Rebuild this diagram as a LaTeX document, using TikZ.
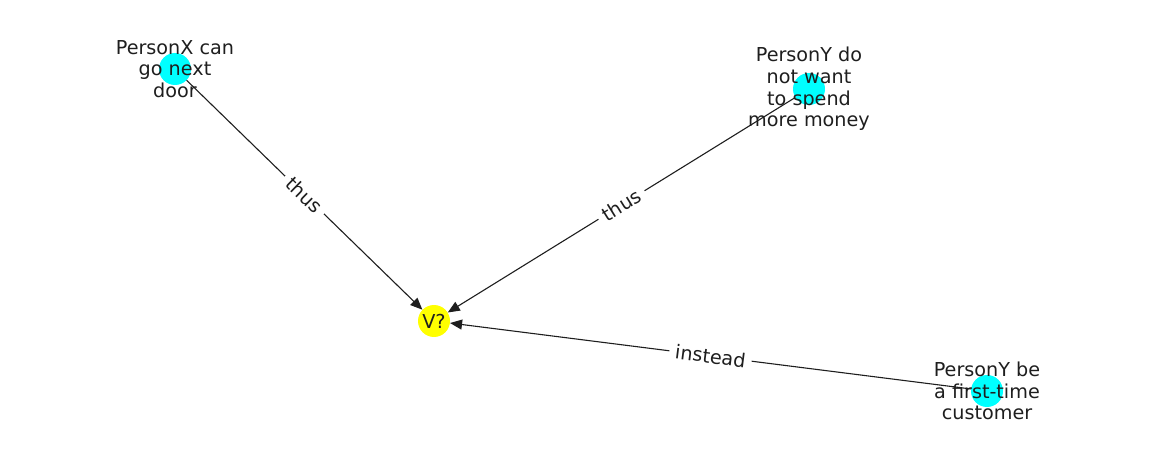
\documentclass[tikz,border=0pt]{standalone}
\usepackage{fontspec}
\setmainfont{DejaVu Sans}
\usetikzlibrary{arrows.meta}
\definecolor{ncyan}{RGB}{0,255,255}
\definecolor{nyellow}{RGB}{255,255,0}
\definecolor{tcol}{RGB}{30,30,30}
\tikzset{
  dot/.style={circle, minimum size=32pt, inner sep=0pt, draw=none},
  lbl/.style={align=center, text=tcol, font=\fontsize{19.2}{21.8}\selectfont, inner sep=0pt},
  edge/.style={draw=tcol, line width=1.1pt, -{Triangle[length=12pt,width=10pt]}},
  elabel/.style={sloped, fill=white, text=tcol, font=\fontsize{19.2}{21.8}\selectfont, inner xsep=6pt, inner ysep=4pt}
}
\begin{document}
\begin{tikzpicture}[x=1pt,y=-1pt]
\useasboundingbox (0,0) rectangle (1162,462);
\node[dot, fill=ncyan] (x) at (175,69) {};
\node[dot, fill=ncyan] (y) at (809,89) {};
\node[dot, fill=nyellow] (v) at (434,321) {};
\node[dot, fill=ncyan] (z) at (987,391) {};
\draw[edge] (x) -- node[elabel]{thus} (v);
\draw[edge] (y) -- node[elabel]{thus} (v);
\draw[edge] (z) -- node[elabel]{instead} (v);
\node[lbl] (xl) at (175,69) {PersonX can\\go next\\door};
\node[lbl] (yl) at (809,89) {PersonY do\\not want\\to spend\\more money};
\node[lbl] (vl) at (434,321) {V?};
\node[lbl] (zl) at (987,391) {PersonY be\\a first-time\\customer};
\end{tikzpicture}
\end{document}
